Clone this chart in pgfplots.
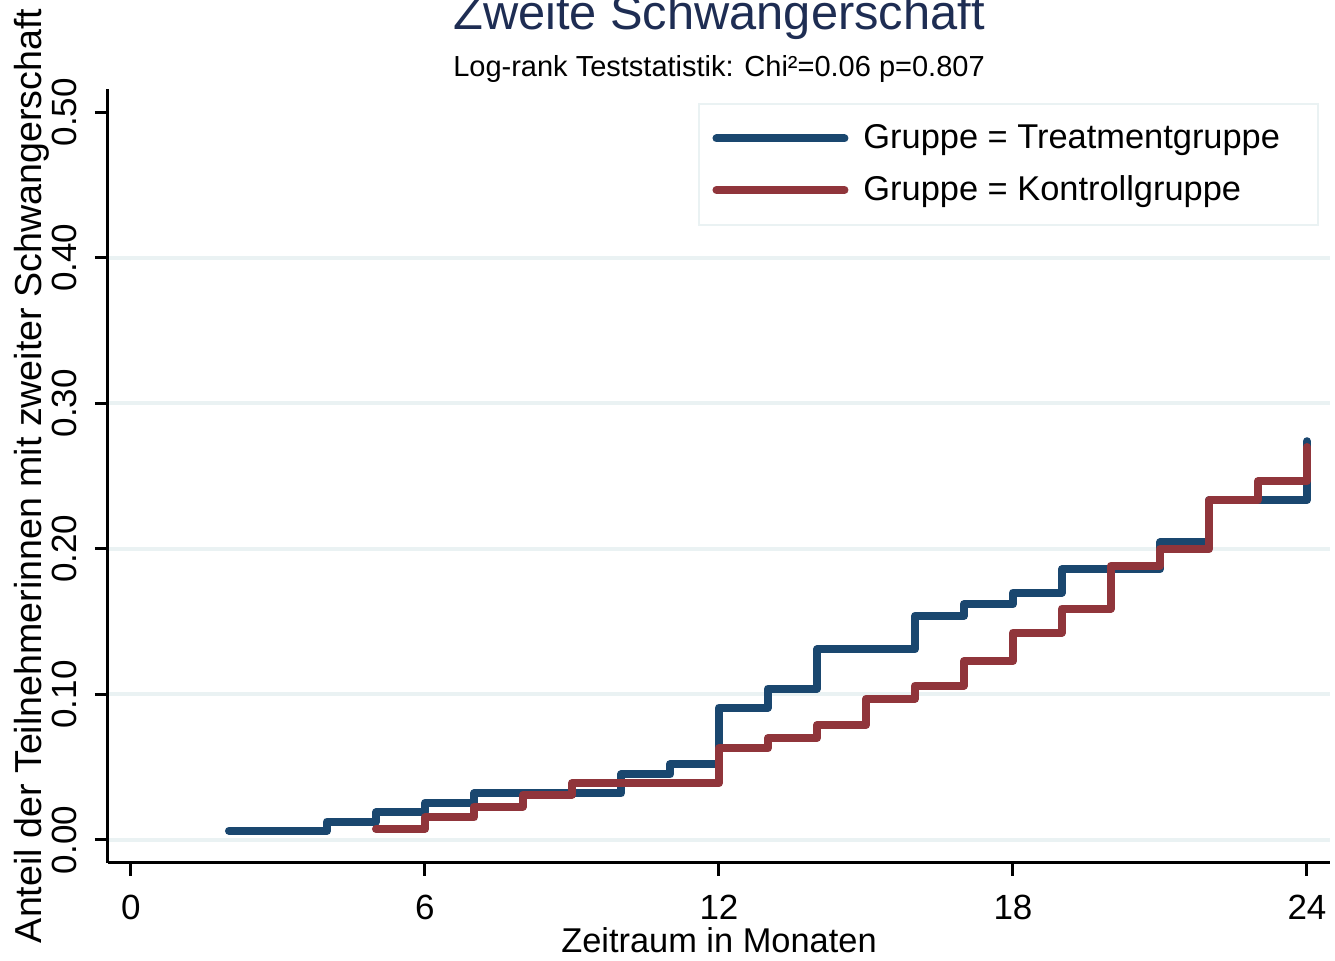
\documentclass[border=0pt]{standalone}
\usepackage{fontspec}
\setmainfont{Liberation Sans}
\usepackage{pgfplots}
\pgfplotsset{compat=1.18}
\definecolor{stblue}{RGB}{26,71,111}
\definecolor{stred}{RGB}{144,53,59}
\definecolor{stgrid}{RGB}{234,242,243}
\definecolor{sttitle}{RGB}{30,45,83}
\begin{document}
\begin{tikzpicture}
\useasboundingbox (-54pt,-49pt) rectangle (613.5pt,431.5pt);
\begin{axis}[
  at={(0,0)}, anchor=south west,
  scale only axis, width=611pt, height=387pt,
  xmin=-0.469, xmax=24.47, ymin=-0.0158, ymax=0.516,
  axis x line*=bottom, axis y line*=left,
  axis line style={line width=1.5pt, black, -},
  xtick={0,6,12,18,24},
  ytick={0,0.1,0.2,0.3,0.4},
  extra y ticks={0.5},
  extra y tick style={grid=none},
  ymajorgrids,
  grid style={stgrid, line width=2pt},
  tick align=outside,
  major tick length=6.5pt,
  tick style={line width=1.5pt, black},
  /pgf/number format/assume math mode=true,
  yticklabel style={/pgf/number format/fixed, /pgf/number format/fixed zerofill, /pgf/number format/precision=2},
  ticklabel style={font=\fontsize{17.5}{20}\selectfont},
  xticklabel style={anchor=base},
  xticklabel shift=22pt,
  yticklabel style={rotate=90, anchor=base},
  yticklabel shift=9pt,
  xlabel={Zeitraum in Monaten},
  xlabel style={at={(axis description cs:0.5,0)}, anchor=base, yshift=-45pt, font=\fontsize{17.2}{20}\selectfont},
  ylabel={Anteil der Teilnehmerinnen mit zweiter Schwangerschaft},
  ylabel style={at={(axis description cs:0,0.5)}, anchor=base, yshift=33pt, font=\fontsize{18.8}{22}\selectfont},
  legend style={at={(rel axis cs:1,1)}, anchor=north east, xshift=-5.5pt, yshift=-7pt,
    draw=stgrid, line width=1pt, font=\fontsize{17.2}{20}\selectfont,
    inner xsep=6.5pt, inner ysep=8.5pt, row sep=8pt, column sep=5.5pt},
  legend cell align=left,
  legend image code/.code={\draw[line width=4pt, line cap=round] (0pt,0pt) -- (64pt,0pt);},
]
\addplot[const plot, stblue, line width=4pt, line cap=round, line join=round] coordinates {
(2,0.0063) (4,0.0127) (5,0.019) (6,0.0255) (7,0.032) (10,0.045) (11,0.052)
(12,0.091) (13,0.104) (14,0.131) (16,0.154) (17,0.162) (18,0.170) (19,0.186)
(21,0.2045) (22,0.2335) (24,0.274)
};
\addlegendentry{Gruppe = Treatmentgruppe\kern10.5pt\null}
\addplot[const plot, stred, line width=4pt, line cap=round, line join=round] coordinates {
(5,0.0076) (6,0.0155) (7,0.023) (8,0.031) (9,0.039) (12,0.063) (13,0.070)
(14,0.079) (15,0.097) (16,0.106) (17,0.123) (18,0.1425) (19,0.159) (20,0.1885)
(21,0.1998) (22,0.2333) (23,0.2465) (24,0.270)
};
\addlegendentry{Gruppe = Kontrollgruppe}
\end{axis}
\node[anchor=base, font=\fontsize{24.4}{28}\selectfont, text=sttitle] at (305.5pt,416.5pt) {Zweite Schwangerschaft};
\node[anchor=base, font=\fontsize{14.5}{17}\selectfont] at (305.5pt,393pt) {Log-rank Teststatistik: Chi²=0.06 p=0.807};
\end{tikzpicture}
\end{document}
